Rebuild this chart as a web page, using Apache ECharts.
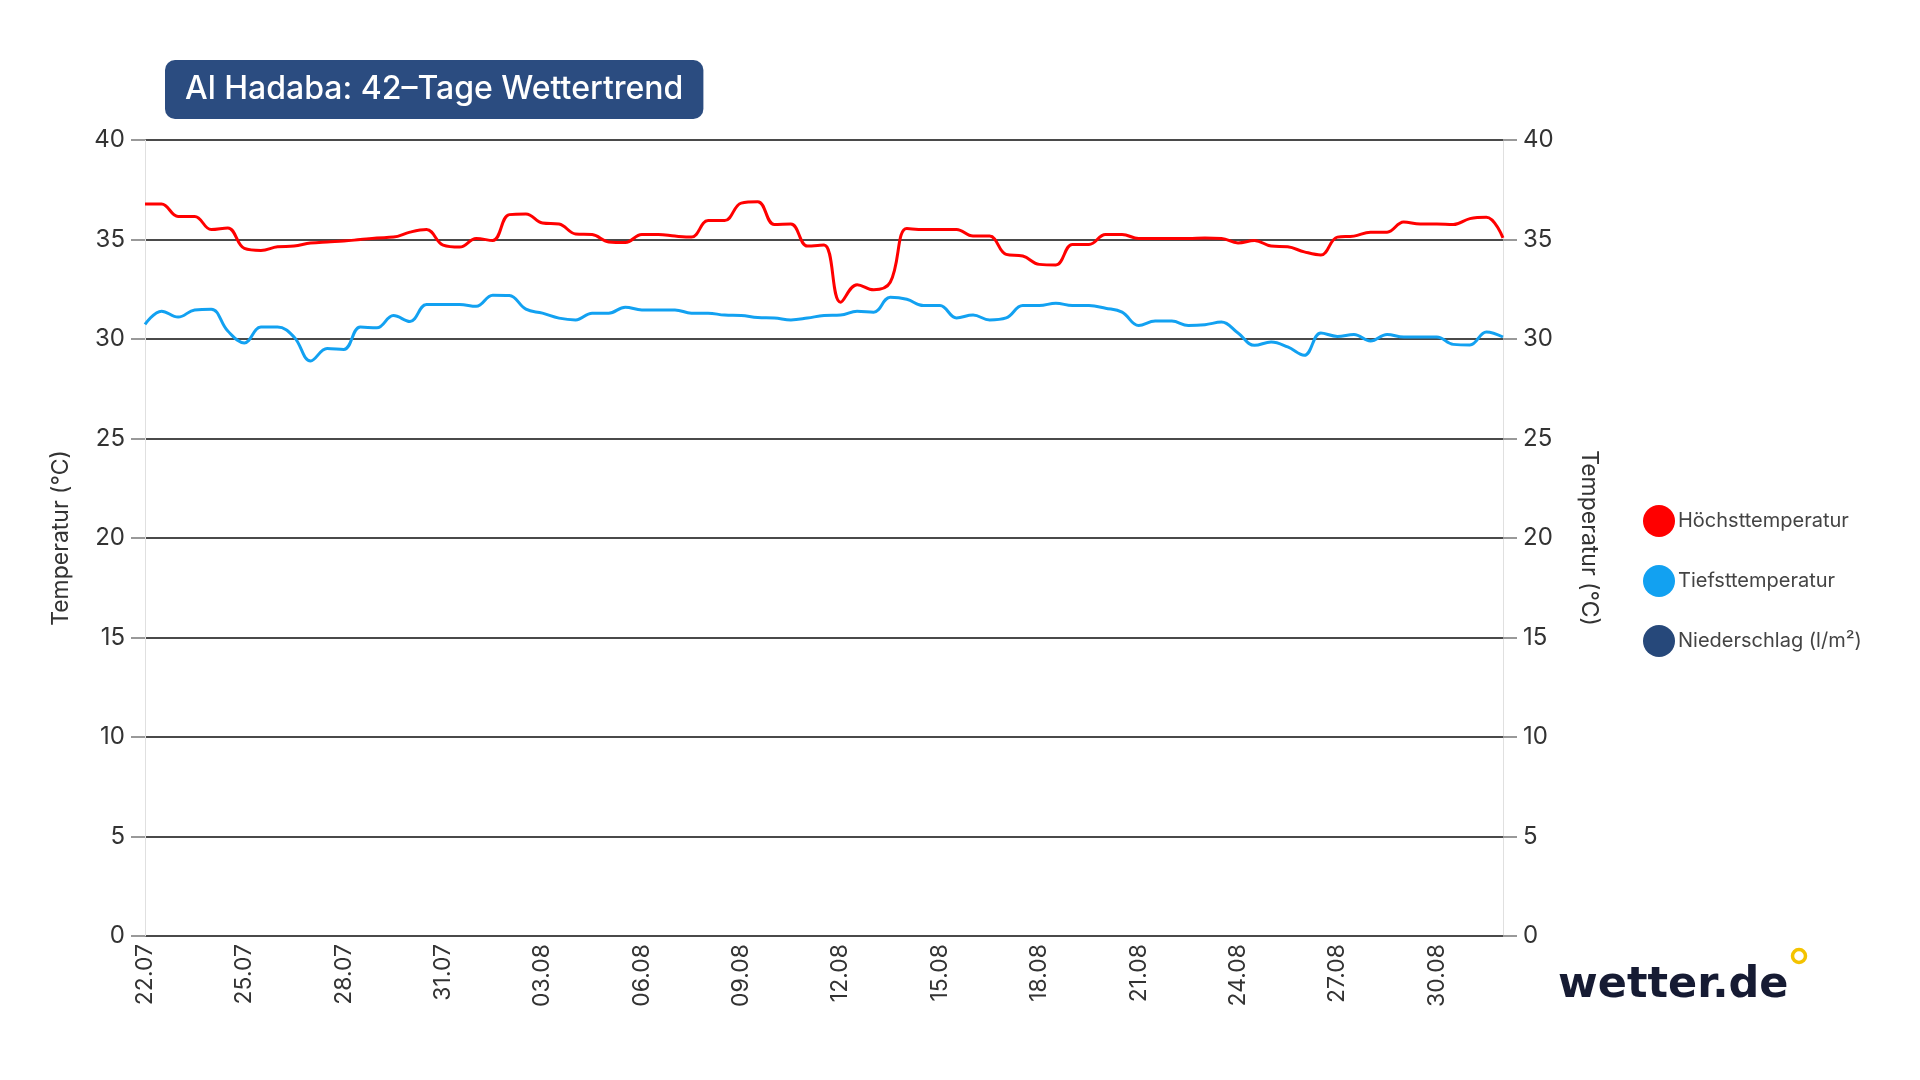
<!DOCTYPE html>
<html>
<head>
<meta charset="utf-8">
<title>Al Hadaba: 42-Tage Wettertrend</title>
<script src="https://cdn.jsdelivr.net/npm/echarts@6/dist/echarts.min.js"></script>
<style>
html, body { margin: 0; padding: 0; background: #fff; }
#chart { width: 1920px; height: 1080px; }
</style>
</head>
<body>
<div id="chart"></div>
<script>
// day labels, one per day (22.07 - 01.09)
var days = ['22.07', '23.07', '24.07', '25.07', '26.07', '27.07', '28.07', '29.07', '30.07', '31.07',
	'01.08', '02.08', '03.08', '04.08', '05.08', '06.08', '07.08', '08.08', '09.08', '10.08',
	'11.08', '12.08', '13.08', '14.08', '15.08', '16.08', '17.08', '18.08', '19.08', '20.08',
	'21.08', '22.08', '23.08', '24.08', '25.08', '26.08', '27.08', '28.08', '29.08', '30.08',
	'31.08', '01.09'];

// two values per day (00h / 12h)
var maxTemp = [36.78, 36.78, 36.16, 36.16, 35.5, 35.58, 34.55, 34.45, 34.63, 34.67,
	34.82, 34.88, 34.92, 35.0, 35.08, 35.12, 35.37, 35.5, 34.72, 34.62,
	35.05, 34.95, 36.25, 36.28, 35.83, 35.78, 35.28, 35.25, 34.88, 34.85,
	35.25, 35.25, 35.17, 35.12, 35.95, 35.95, 36.83, 36.9, 35.75, 35.78,
	34.67, 34.72, 31.85, 32.73, 32.47, 32.85, 35.55, 35.5, 35.5, 35.5,
	35.17, 35.17, 34.25, 34.17, 33.75, 33.72, 34.75, 34.75, 35.25, 35.25,
	35.05, 35.05, 35.05, 35.05, 35.07, 35.05, 34.83, 34.95, 34.67, 34.63,
	34.38, 34.22, 35.12, 35.17, 35.37, 35.37, 35.88, 35.78, 35.78, 35.75,
	36.05, 36.12, 35.08];

var minTemp = [30.73, 31.4, 31.1, 31.46, 31.5, 30.4, 29.8, 30.6, 30.6, 30.1,
	28.9, 29.52, 29.47, 30.6, 30.56, 31.18, 30.88, 31.73, 31.73, 31.73,
	31.64, 32.2, 32.18, 31.5, 31.3, 31.05, 30.96, 31.3, 31.3, 31.6,
	31.46, 31.46, 31.46, 31.3, 31.3, 31.2, 31.18, 31.08, 31.06, 30.96,
	31.05, 31.18, 31.2, 31.4, 31.35, 32.1, 32.0, 31.68, 31.68, 31.06,
	31.2, 30.96, 31.06, 31.68, 31.68, 31.8, 31.68, 31.68, 31.55, 31.35,
	30.68, 30.9, 30.9, 30.68, 30.72, 30.85, 30.3, 29.68, 29.85, 29.6,
	29.18, 30.3, 30.13, 30.23, 29.9, 30.23, 30.1, 30.1, 30.1, 29.73,
	29.7, 30.35, 30.1];

var precip = [];

var seriesNames = ['Höchsttemperatur', 'Tiefsttemperatur', 'Niederschlag (l/m²)'];
var yTicks = { min: 0, max: 40, step: 5 };

function toPoints(arr) {
	return arr.map(function(v, i) { return [i / 2, v]; });
}

var chart = echarts.init(document.getElementById('chart'));
var font = 'Inter, "Noto Sans", sans-serif';

var yAxisBase = {
	type: 'value',
	min: yTicks.min,
	max: yTicks.max,
	interval: yTicks.step,
	name: 'Temperatur (°C)',
	nameLocation: 'middle',
	nameTextStyle: { fontFamily: font, fontSize: 23, color: '#333' },
	axisLine: { show: true, lineStyle: { color: '#e0e0e0', width: 1 } },
	axisTick: { show: true, length: 14, lineStyle: { color: '#999', width: 2 } },
	axisLabel: { fontFamily: font, fontSize: 24, color: '#333', margin: 20 },
	splitLine: { show: false }
};

chart.setOption({
	backgroundColor: '#fff',
	animation: false,
	title: {
		text: 'Al Hadaba: 42–Tage Wettertrend',
		left: 165,
		top: 60,
		padding: [13, 20, 13, 20],
		backgroundColor: '#2b4c80',
		borderRadius: 10,
		textStyle: { fontFamily: font, fontSize: 32, fontWeight: 500, color: '#fff', lineHeight: 33 }
	},
	legend: {
		orient: 'vertical',
		left: 1638,
		top: 500,
		icon: 'circle',
		itemWidth: 32,
		itemHeight: 32,
		itemGap: 28,
		textStyle: { fontFamily: font, fontSize: 20, color: '#444', padding: [0, 0, 0, -2] },
		data: seriesNames
	},
	grid: { left: 145, right: 417, top: 140, bottom: 144 },
	xAxis: {
		type: 'value',
		min: 0,
		max: days.length - 1,
		interval: 3,
		axisLine: { show: false },
		axisTick: { show: false },
		splitLine: { show: false },
		axisLabel: {
			fontFamily: font,
			fontSize: 23,
			color: '#333',
			rotate: 90,
			margin: 8,
			showMaxLabel: false,
			formatter: function(v) {
				return v % 3 === 0 ? days[v] : '';
			}
		}
	},
	yAxis: [
		Object.assign({}, yAxisBase, {
			position: 'left',
			nameGap: 72,
			splitLine: { show: true, lineStyle: { color: '#4a4a4a', width: 2 } }
		}),
		Object.assign({}, yAxisBase, {
			position: 'right',
			nameGap: 74,
			nameRotate: -90
		})
	],
	series: [
		{
			name: seriesNames[0],
			type: 'line',
			smooth: 0.4,
			showSymbol: false,
			color: '#ff0000',
			lineStyle: { width: 3 },
			data: toPoints(maxTemp)
		},
		{
			name: seriesNames[1],
			type: 'line',
			smooth: 0.4,
			showSymbol: false,
			color: '#12a1f1',
			lineStyle: { width: 3 },
			data: toPoints(minTemp)
		},
		{
			name: seriesNames[2],
			type: 'bar',
			color: '#26487a',
			data: toPoints(precip)
		}
	],
	graphic: [
		{
			type: 'text',
			left: 1558,
			top: 964,
			style: { text: 'wetter.de', font: 'bold 43px "DejaVu Sans", sans-serif', fill: '#161b33' }
		},
		{
			type: 'circle',
			shape: { cx: 1799, cy: 956, r: 6.5 },
			style: { fill: 'none', stroke: '#f4c300', lineWidth: 3.5 }
		}
	]
});
</script>
</body>
</html>
